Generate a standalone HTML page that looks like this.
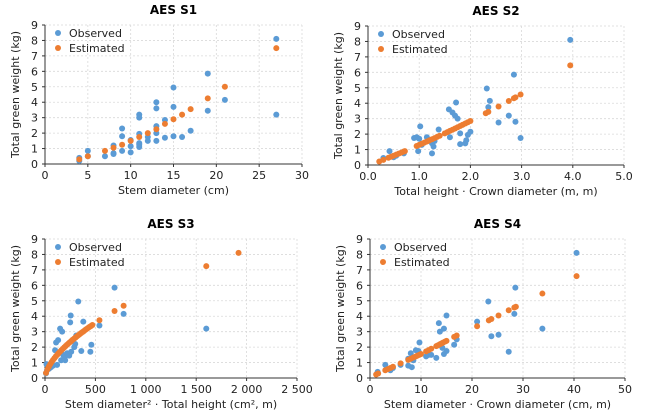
<!DOCTYPE html>
<html><head><meta charset="utf-8"><style>
body{margin:0;background:#fff}
svg{display:block;font-family:"DejaVu Sans","Liberation Sans",sans-serif}
</style></head><body>
<svg id="s" width="646" height="420" xmlns="http://www.w3.org/2000/svg"></svg>
<script>
var S=document.getElementById('s'),h='';var R=3;
function panel(o){
 var X=function(v){return o.x0+(v-o.xmin)/(o.xmax-o.xmin)*(o.x1-o.x0)};
 var Y=function(v){return o.y0-(v/9)*(o.y0-o.y9)};
 for(var i=1;i<=9;i++){h+='<line x1="'+o.x0+'" x2="'+o.x1+'" y1="'+Y(i)+'" y2="'+Y(i)+'" stroke="#d9d9d9" stroke-width="0.8" stroke-dasharray="2,2"/>';}
 o.xt.forEach(function(t,k){if(k>0)h+='<line x1="'+X(t)+'" x2="'+X(t)+'" y1="'+o.y9+'" y2="'+o.y0+'" stroke="#d9d9d9" stroke-width="0.8" stroke-dasharray="2,2"/>';});
 h+='<line x1="'+o.x0+'" x2="'+o.x0+'" y1="'+o.y9+'" y2="'+o.y0+'" stroke="#333" stroke-width="1"/>';
 h+='<line x1="'+o.x0+'" x2="'+o.x1+'" y1="'+o.y0+'" y2="'+o.y0+'" stroke="#333" stroke-width="1"/>';
 for(var i=0;i<=9;i++){h+='<line x1="'+(o.x0-3)+'" x2="'+o.x0+'" y1="'+Y(i)+'" y2="'+Y(i)+'" stroke="#333"/>';
  h+='<text x="'+(o.x0-7)+'" y="'+(Y(i)+4)+'" font-size="11" text-anchor="end" fill="#222">'+i+'</text>';}
 o.xt.forEach(function(t,k){h+='<line x1="'+X(t)+'" x2="'+X(t)+'" y1="'+o.y0+'" y2="'+(o.y0+3)+'" stroke="#333"/>';
  h+='<text x="'+X(t)+'" y="'+(o.y0+15)+'" font-size="11" text-anchor="middle" fill="#222">'+o.xl[k]+'</text>';});
 h+='<text x="'+((o.x0+o.x1)/2)+'" y="'+(o.y0+30)+'" font-size="11" text-anchor="middle" fill="#222">'+o.xlab+'</text>';
 var cy=(o.y0+o.y9)/2;
 h+='<text transform="translate('+(o.x0-26)+','+cy+') rotate(-90)" font-size="11" text-anchor="middle" fill="#222">Total green weight (kg)</text>';
 h+='<text x="'+((o.x0+o.x1)/2)+'" y="'+(o.y9-11)+'" font-size="12" font-weight="bold" text-anchor="middle" fill="#000">'+o.title+'</text>';
 o.obs.forEach(function(p){h+='<circle cx="'+X(p[0])+'" cy="'+Y(p[1])+'" r="'+R+'" fill="#5b9bd5"/>';});
 o.est.forEach(function(p){h+='<circle cx="'+X(p[0])+'" cy="'+Y(p[1])+'" r="'+R+'" fill="#ed7d31"/>';});
 h+='<circle cx="'+(o.x0+13)+'" cy="'+(o.y9+8)+'" r="'+R+'" fill="#5b9bd5"/><text x="'+(o.x0+24)+'" y="'+(o.y9+12)+'" font-size="11" fill="#222">Observed</text>';
 h+='<circle cx="'+(o.x0+13)+'" cy="'+(o.y9+23)+'" r="'+R+'" fill="#ed7d31"/><text x="'+(o.x0+24)+'" y="'+(o.y9+27)+'" font-size="11" fill="#222">Estimated</text>';
}
function rng(a,b,n){var r=[];for(var i=0;i<n;i++)r.push(a+(b-a)*i/(n-1));return r;}
panel({x0:45,x1:302,y0:164,y9:25,xmin:0,xmax:30,xt:[0,5,10,15,20,25,30],xl:['0','5','10','15','20','25','30'],title:'AES S1',xlab:'Stem diameter (cm)',
obs:[[4,0.4],[4,0.2],[5,0.85],[5,0.5],[7,0.5],[8,1.2],[8,0.7],[8,0.65],[9,2.3],[9,1.8],[9,0.85],[10,1.55],[10,1.15],[10,0.75],[11,3.2],[11,3.0],[11,1.95],[11,1.35],[11,1.25],[11,1.1],[12,1.75],[12,1.5],[13,4.0],[13,3.6],[13,2.45],[13,2.0],[13,1.5],[14,2.85],[14,1.7],[15,4.95],[15,3.7],[15,1.8],[16,1.75],[17,2.15],[19,5.85],[19,3.45],[21,4.15],[27,8.1],[27,3.2]],
est:[[4,0.3],[5,0.5],[7,0.85],[8,1.05],[9,1.25],[10,1.5],[11,1.75],[12,2.0],[13,2.25],[14,2.6],[15,2.9],[16,3.2],[17,3.55],[19,4.25],[21,5.0],[27,7.5]]});
var e2=[0.22,0.3,0.4,0.45,0.5,0.55,0.6,0.65,0.7,0.72,0.95,1.0,1.05,1.1,1.15,1.2,1.25,1.3,1.35,1.4,1.5,1.55,1.6,1.65,1.7,1.75,1.8,1.85,1.9,1.95,2.0,2.3,2.35,2.55,2.75,2.85,2.88,2.98,3.95].map(function(x){return [x,1.25*x+0.1*x*x-0.05]});
panel({x0:368,x1:624,y0:165,y9:26,xmin:0,xmax:5,xt:[0,1,2,3,4,5],xl:['0.0','1.0','2.0','3.0','4.0','5.0'],title:'AES S2',xlab:'Total height · Crown diameter (m, m)',
obs:[[0.3,0.45],[0.42,0.9],[0.5,0.5],[0.55,0.6],[0.7,0.75],[0.9,1.75],[0.95,1.8],[0.98,0.9],[1.0,1.7],[1.02,2.5],[1.05,1.3],[1.15,1.8],[1.25,1.4],[1.25,0.75],[1.28,1.2],[1.3,1.55],[1.38,2.3],[1.58,3.6],[1.6,1.8],[1.65,3.4],[1.7,3.2],[1.72,4.05],[1.75,3.0],[1.8,2.05],[1.8,1.35],[1.9,1.4],[1.92,1.6],[1.95,1.95],[2.0,2.15],[2.32,4.95],[2.35,3.75],[2.38,4.15],[2.55,2.75],[2.75,3.2],[2.85,5.85],[2.88,2.8],[2.98,1.75],[3.95,8.1]],est:e2});
var xs3=rng(10,470,34).concat([540,690,780,1600,1920]);
panel({x0:45,x1:297,y0:378,y9:239,xmin:0,xmax:2500,xt:[0,500,1000,1500,2000,2500],xl:['0','500','1 000','1 500','2 000','2 500'],title:'AES S3',xlab:'Stem diameter² · Total height (cm², m)',
obs:[[10,0.3],[15,0.9],[20,0.5],[40,0.6],[60,0.7],[80,0.8],[100,1.8],[110,2.3],[120,0.85],[130,2.45],[150,3.2],[160,1.15],[170,3.0],[180,1.5],[190,1.3],[200,1.15],[220,1.6],[240,1.45],[250,3.6],[255,4.05],[260,1.7],[290,2.0],[300,2.2],[310,2.75],[330,4.95],[360,1.75],[380,3.65],[450,1.7],[460,2.15],[540,3.4],[690,5.85],[780,4.15],[1600,3.2]],
est:xs3.map(function(x){return [x,8.1*Math.pow(x/1920,0.61)]})});
var pts4=[[1,0.2],[10,1.55],[17,2.75],[21,3.35],[28.5,4.6],[34,5.5],[40.5,6.6]];
function f4(x){for(var i=1;i<pts4.length;i++){if(x<=pts4[i][0]){var a=pts4[i-1],b=pts4[i];return a[1]+(b[1]-a[1])*(x-a[0])/(b[0]-a[0]);}}return 6.6;}
var xs4=[1.2,1.6,3,3.5,4,4.5,6,7.5,8,8.5,9,9.3,9.7,10,11,11.5,12,13,13.3,13.7,14,14.3,14.7,15,16.5,17,21,23.3,23.8,25.2,27.2,28.3,28.6,33.8,40.5];
panel({x0:370,x1:625,y0:378,y9:239,xmin:0,xmax:50,xt:[0,10,20,30,40,50],xl:['0','10','20','30','40','50'],title:'AES S4',xlab:'Stem diameter · Crown diameter (cm, m)',
obs:[[1.5,0.4],[3,0.85],[4,0.5],[4.5,0.65],[6,0.85],[7.5,0.8],[7.5,1.25],[8,1.6],[8.2,0.7],[8.5,1.15],[9,1.8],[9.5,1.75],[9.7,2.3],[11,1.4],[11.5,1.5],[12,1.5],[13,1.3],[13.5,3.55],[13.7,3.0],[14.2,1.95],[14.5,3.2],[14.5,1.55],[15,4.05],[15,1.75],[16.5,2.15],[17,2.5],[21,3.65],[23.2,4.95],[23.8,2.7],[25.2,2.8],[27.2,1.7],[28.3,4.15],[28.5,5.85],[33.8,3.2],[40.5,8.1]],
est:xs4.map(function(x){return [x,f4(x)]})});
S.innerHTML=h;
</script>
</body></html>
